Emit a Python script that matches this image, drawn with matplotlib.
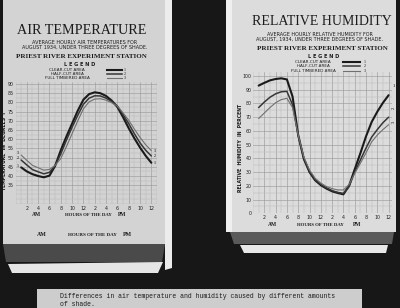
import matplotlib
matplotlib.use('Agg')
import matplotlib.pyplot as plt
from matplotlib.patches import Polygon
from matplotlib.ticker import MultipleLocator

# ---------------- data ----------------
hours = list(range(1, 25))
temp_clear = [44.7, 42.5, 41.0, 40.0, 39.3, 40.2, 45.5, 54.0, 61.5, 68.5, 75.5, 81.5,
              84.5, 85.5, 85.0, 83.5, 81.0, 77.5, 72.0, 66.0, 60.5, 55.5, 51.0, 47.2]
temp_half = [48.7, 46.0, 43.5, 42.3, 41.2, 42.0, 45.8, 52.0, 59.5, 66.5, 73.0, 79.0,
             82.3, 83.6, 83.5, 82.3, 80.5, 78.0, 73.5, 68.5, 63.0, 58.0, 54.0, 50.9]
temp_full = [51.4, 48.5, 45.8, 44.5, 43.2, 43.6, 45.8, 49.5, 56.0, 63.0, 70.0, 76.5,
             80.3, 81.8, 82.0, 81.2, 79.8, 78.0, 74.3, 70.3, 65.5, 61.0, 57.0, 53.8]
rh_clear = [93.0, 95.0, 96.8, 97.8, 98.3, 97.5, 85.0, 57.0, 39.5, 30.0, 24.0, 20.5,
            18.0, 16.0, 14.8, 13.8, 20.0, 32.0, 43.7, 56.0, 66.5, 74.0, 80.5, 86.0]
rh_half = [77.0, 81.0, 84.5, 87.0, 88.5, 88.8, 79.0, 56.5, 40.0, 30.5, 24.5, 21.0,
           18.5, 16.5, 15.2, 14.5, 19.5, 30.0, 38.8, 47.5, 55.5, 61.0, 66.0, 70.0]
rh_full = [69.0, 73.0, 77.0, 80.5, 82.8, 83.7, 77.0, 57.0, 41.0, 31.5, 25.5, 22.0,
           19.5, 18.0, 17.0, 17.0, 21.0, 29.0, 36.4, 44.0, 52.0, 57.0, 61.0, 64.5]
series_names = ['CLEAR-CUT AREA', 'HALF-CUT AREA', 'FULL TIMBERED AREA']
series_ids = ['1', '2', '3']
hour_ticks = [2, 4, 6, 8, 10, 12, 14, 16, 18, 20, 22, 24]
hour_labels = ['2', '4', '6', '8', '10', '12', '2', '4', '6', '8', '10', '12']
temp_ticks = list(range(35, 95, 5))
rh_ticks = list(range(0, 101, 10))

# ---------------- styling ----------------
W, H = 400, 308
BG = '#171717'
PAPER_L = '#d3d3d3'
PAPER_R = '#dcdcdc'
GRID_MAJ = '#9c9c9c'
GRID_MIN = '#b9b9b9'
LINE_STY = [dict(color='#1a1a1a', lw=1.5), dict(color='#363636', lw=1.1), dict(color='#707070', lw=0.8)]
SERIF = ['Liberation Serif', 'DejaVu Serif']
SANS = ['DejaVu Sans']
MONO = ['Liberation Mono', 'DejaVu Sans Mono']

fig = plt.figure(figsize=(4, 3.08), dpi=100, facecolor=BG)


def fx(x):
    return x / W


def fy(y):
    return 1 - y / H


def poly(pts, color, z=-5):
    fig.add_artist(Polygon([(fx(x), fy(y)) for x, y in pts], closed=True,
                           transform=fig.transFigure, facecolor=color,
                           edgecolor='none', zorder=z))


def txt(x, y, s, size, family=SANS, ha='center', va='center', **kw):
    fig.text(fx(x), fy(y), s, fontsize=size, family=family, ha=ha, va=va,
             color=kw.pop('color', '#1c1c1c'), **kw)


# papers and photo pieces
poly([(3, 0), (165, 0), (165, 244), (3, 244)], PAPER_L)
poly([(3, 244), (165, 244), (162, 262), (6, 262)], '#4a4a4a')
poly([(8, 264), (163, 262), (158, 273), (12, 273)], '#e6e6e6')
poly([(165, 0), (172, 0), (172, 268), (165, 270)], '#ececec')
poly([(226, 0), (396, 0), (396, 232), (226, 232)], PAPER_R)
poly([(226, 0), (232, 0), (232, 232), (226, 232)], '#efefef')
poly([(230, 232), (394, 232), (392, 244), (234, 244)], '#5a5a5a')
poly([(240, 245), (388, 245), (386, 253), (244, 253)], '#e8e8e8')
poly([(37, 289), (362, 289), (362, 308), (37, 308)], '#cdcdcd')


def style_axes(ax, paper, xmax):
    ax.set_facecolor(paper)
    for s in ax.spines.values():
        s.set_visible(False)
    ax.set_xlim(0, xmax)
    ax.set_xticks(hour_ticks)
    ax.set_xticklabels(hour_labels)
    ax.xaxis.set_minor_locator(MultipleLocator(1))
    ax.grid(which='major', color=GRID_MAJ, lw=0.45)
    ax.grid(which='minor', color=GRID_MIN, lw=0.35)
    ax.tick_params(which='both', length=0, labelsize=3.4, pad=1.2, colors='#222222')
    ax.set_axisbelow(True)


# ---------------- left chart: air temperature ----------------
ax1 = fig.add_axes([fx(15.5), fy(204), (157 - 15.5) / W, (204 - 82) / H])
style_axes(ax1, PAPER_L, 25)
ax1.set_ylim(24.8, 91.09)
ax1.set_yticks(temp_ticks)
ax1.yaxis.set_minor_locator(MultipleLocator(2.5))
for vals, st in zip([temp_clear, temp_half, temp_full], LINE_STY):
    ax1.plot(hours, vals, solid_capstyle='round', **st)
for vals, sid in zip([temp_clear, temp_half, temp_full], series_ids):
    ax1.text(0.45, vals[0] + 1.0, sid, fontsize=3.0, family=SERIF, ha='center', va='center', clip_on=False)
    ax1.text(24.55, vals[-1], sid, fontsize=3.0, family=SERIF, ha='center', va='center', clip_on=False)

txt(82, 30, 'AIR TEMPERATURE', 10.2, family=SERIF)
txt(85, 42.3, 'AVERAGE HOURLY AIR TEMPERATURES FOR', 3.5)
txt(85, 47.5, 'AUGUST 1934, UNDER THREE DEGREES OF SHADE.', 3.5)
txt(81, 56, 'PRIEST RIVER EXPERIMENT STATION', 5.0, family=SERIF, weight='bold')
txt(80, 64.3, 'L E G E N D', 3.6, weight='bold')
for i, (name, st) in enumerate(zip(series_names, LINE_STY)):
    yy = 69.8 + 4.3 * i
    txt(67, yy, name, 3.0)
    fig.add_artist(plt.Line2D([fx(107), fx(122)], [fy(yy), fy(yy)], transform=fig.transFigure, **st))
    txt(125, yy, series_ids[i], 3.0, family=SERIF)
txt(4.5, 150, 'TEMPERATURE  IN  DEGREES  F', 3.3, rotation=90, weight='bold')
txt(37, 214.5, 'AM', 4.0, family=SERIF, weight='bold')
txt(88, 214.5, 'HOURS OF THE DAY', 3.4, family=SERIF, weight='bold')
txt(122, 214.5, 'PM', 4.0, family=SERIF, weight='bold')
txt(42, 235, 'AM', 4.2, family=SERIF, weight='bold')
txt(92, 235, 'HOURS OF THE DAY', 3.6, family=SERIF, weight='bold')
txt(127, 235, 'PM', 4.2, family=SERIF, weight='bold')

# ---------------- right chart: relative humidity ----------------
ax2 = fig.add_axes([fx(253), fy(213.3), (392 - 253) / W, (213.3 - 72) / H])
style_axes(ax2, PAPER_R, 24.6)
ax2.set_ylim(0, 102.9)
ax2.set_yticks(rh_ticks)
ax2.yaxis.set_minor_locator(MultipleLocator(5))
for vals, st in zip([rh_clear, rh_half, rh_full], LINE_STY):
    ax2.plot(hours, vals, solid_capstyle='round', **st)
ax2.text(24.9, rh_clear[-1] + 7, '1', fontsize=3.2, family=SERIF, ha='center', va='center', clip_on=False)
ax2.text(24.9, rh_half[-1] + 7, '2', fontsize=3.2, family=SERIF, ha='center', va='center', clip_on=False, rotation=90)
ax2.text(24.9, rh_full[-1] + 2, '3', fontsize=3.2, family=SERIF, ha='center', va='center', clip_on=False, rotation=90)

txt(322, 21.7, 'RELATIVE HUMIDITY', 10.0, family=SERIF)
txt(320, 34.3, 'AVERAGE HOURLY RELATIVE HUMIDITY FOR', 3.5)
txt(320, 39.5, 'AUGUST, 1934, UNDER THREE DEGREES OF SHADE.', 3.5)
txt(322, 48.3, 'PRIEST RIVER EXPERIMENT STATION', 5.0, family=SERIF, weight='bold')
txt(324, 56.8, 'L E G E N D', 3.6, weight='bold')
for i, (name, st) in enumerate(zip(series_names, LINE_STY)):
    yy = 62.0 + 4.3 * i
    txt(313, yy, name, 3.0)
    fig.add_artist(plt.Line2D([fx(343), fx(360)], [fy(yy), fy(yy)], transform=fig.transFigure, **st))
    txt(365, yy, series_ids[i], 3.0, family=SERIF)
txt(240.5, 148, 'RELATIVE  HUMIDITY  IN  PERCENT', 3.3, rotation=90, weight='bold')
txt(272, 225, 'AM', 4.0, family=SERIF, weight='bold')
txt(320, 224.5, 'HOURS OF THE DAY', 3.4, family=SERIF, weight='bold')
txt(357, 225, 'PM', 4.0, family=SERIF, weight='bold')

# ---------------- caption ----------------
txt(60, 297, 'Differences in air temperature and humidity caused by different amounts',
    4.7, family=MONO, ha='left')
txt(60, 304, 'of shade.', 4.7, family=MONO, ha='left')

fig.savefig('out.png', dpi=100, facecolor=BG)
